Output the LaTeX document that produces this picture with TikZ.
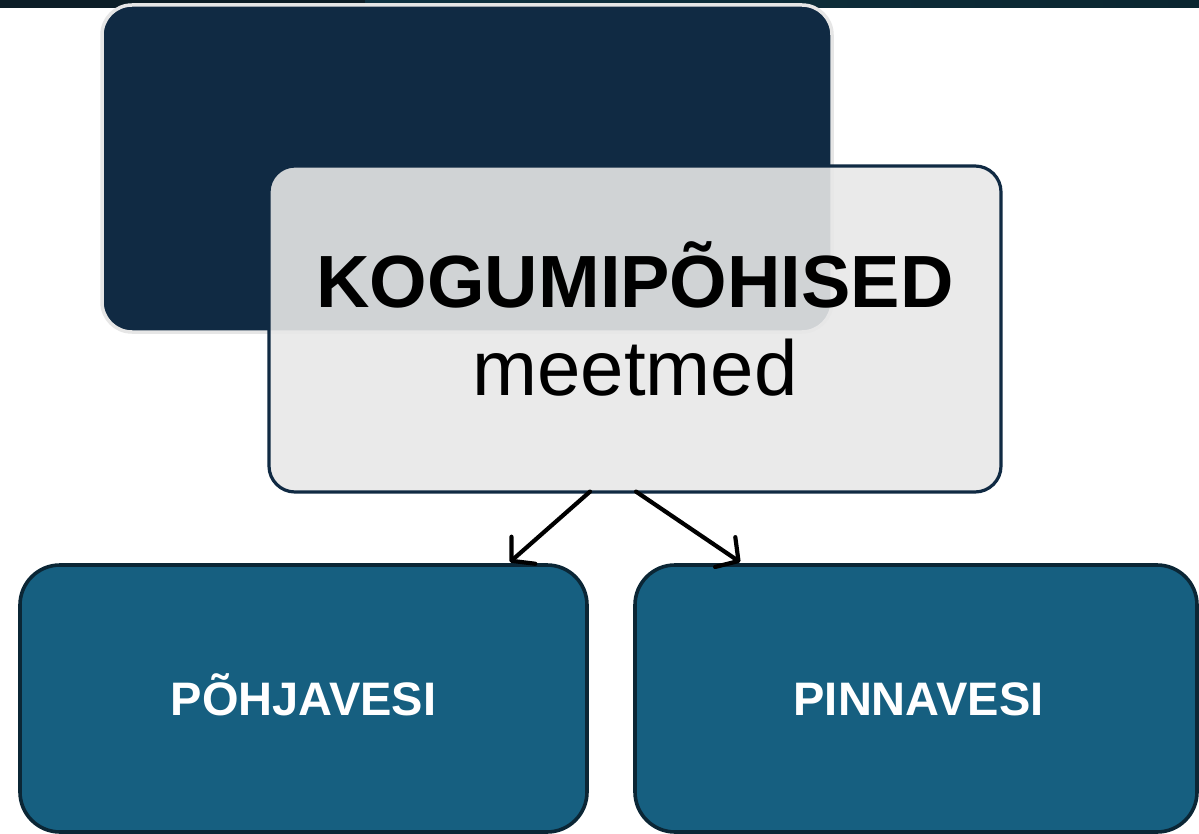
\documentclass[tikz,border=0pt]{standalone}
\usepackage{fontspec}
\setmainfont{Liberation Sans}
\usetikzlibrary{arrows.meta}
\definecolor{topbarA}{HTML}{0C1E27}
\definecolor{topbarB}{HTML}{0F3343}
\definecolor{topbarC}{HTML}{0A2630}
\definecolor{navy}{HTML}{102A43}
\definecolor{lightfill}{HTML}{E8E8E8}
\definecolor{lightedge}{HTML}{E6E6E6}
\definecolor{teal}{HTML}{165F80}
\definecolor{tealedge}{HTML}{0B2635}
\tikzset{
  darkbox/.style={draw=lightedge, line width=3.5pt, fill=navy, rounded corners=30pt, minimum width=730pt, minimum height=327pt, inner sep=0pt},
  lightbox/.style={draw=navy, line width=3.2pt, fill=lightfill, fill opacity=0.89, draw opacity=1, rounded corners=26pt, minimum width=732pt, minimum height=326pt, inner sep=0pt},
  waterbox/.style={draw=tealedge, line width=3.6pt, fill=teal, rounded corners=40pt, minimum height=267pt, inner sep=0pt, text=white, font=\fontsize{47pt}{50pt}\selectfont\bfseries, text height=33.6pt, text depth=0pt},
  arr/.style={draw=black, line width=4.2pt, line cap=round, -{Straight Barb[length=16pt,width=36pt,line width=4.2pt,round]}},
  titletext/.style={anchor=base, inner sep=0pt, text=black}
}
\begin{document}
\begin{tikzpicture}[x=1pt,y=-1pt]
\useasboundingbox (0,0) rectangle (1199,834);
\fill[white] (0,0) rectangle (1199,834);
\fill[topbarA] (0,0) rectangle (365,8);
\shade[left color=topbarB, right color=topbarC] (365,0) rectangle (1199,8);
\node[darkbox] (back) at (467,168.5) {};
\node[lightbox] (light) at (635,329) {};
\node[titletext, font=\fontsize{74pt}{80pt}\selectfont\bfseries] (title) at (635,308) {KOGUMIPÕHISED};
\node[titletext, font=\fontsize{78pt}{80pt}\selectfont] (sub) at (635,395) {meetmed};
\node[waterbox, minimum width=567pt] (left) at (303.5,698.5) {PÕHJAVESI};
\node[waterbox, minimum width=562pt] (right) at (916,698.5) {\hspace*{5pt}PINNAVESI};
\draw[arr] ([xshift=-45pt,yshift=2pt]light.south) -- ([xshift=-79pt,yshift=1pt]left.north east);
\draw[arr] ([xshift=1pt,yshift=2pt]light.south) -- ([xshift=107pt,yshift=1pt]right.north west);
\end{tikzpicture}
\end{document}
